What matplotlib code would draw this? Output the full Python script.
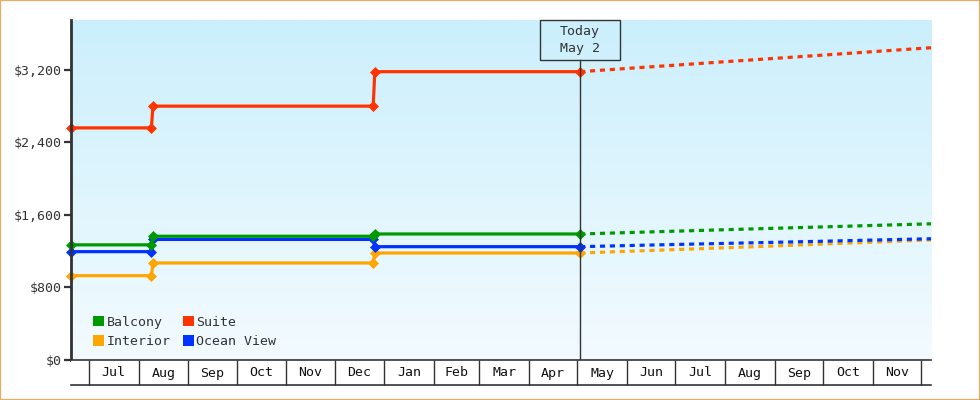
import matplotlib
matplotlib.use('Agg')
import matplotlib.pyplot as plt
import matplotlib.dates as mdates
import matplotlib.transforms as mtransforms
from matplotlib.patches import Rectangle, Patch
from matplotlib.colors import LinearSegmentedColormap
from matplotlib.ticker import FuncFormatter
import numpy as np
from datetime import datetime

# ---------------- data ----------------
series_names = ["Balcony", "Interior", "Suite", "Ocean View"]
series_colors = ["#009900", "#FFA500", "#FF3300", "#0033FF"]

hist_dates = [datetime(2022, 6, 20), datetime(2022, 8, 9), datetime(2022, 8, 10),
              datetime(2022, 12, 25), datetime(2022, 12, 26), datetime(2023, 5, 2, 18)]
balcony_hist = [1270, 1270, 1365, 1365, 1390, 1390]
interior_hist = [930, 930, 1070, 1070, 1180, 1180]
suite_hist = [2560, 2560, 2800, 2800, 3180, 3180]
ocean_hist = [1195, 1195, 1330, 1330, 1250, 1250]

fc_dates = [datetime(2023, 5, 2, 18), datetime(2023, 6, 1), datetime(2023, 7, 1),
            datetime(2023, 8, 1), datetime(2023, 9, 1), datetime(2023, 10, 1),
            datetime(2023, 11, 1), datetime(2023, 12, 7)]
balcony_fc = [1390, 1405, 1421, 1437, 1453, 1468, 1484, 1502]
interior_fc = [1180, 1199, 1218, 1238, 1258, 1279, 1300, 1325]
suite_fc = [3180, 3216, 3252, 3290, 3327, 3363, 3401, 3444]
ocean_fc = [1250, 1262, 1274, 1286, 1298, 1310, 1323, 1337]

y_ticks = [0, 800, 1600, 2400, 3200]
today = datetime(2023, 5, 2, 18)
today_label = "Today\nMay 2"
x_start = datetime(2022, 6, 20)
x_end = datetime(2023, 12, 7)
y_max = 3750

# ---------------- figure ----------------
FONT = "DejaVu Sans Mono"
FS = 9.5
DARK = "#333333"

fig = plt.figure(figsize=(9.8, 4), dpi=100)
fig.patch.set_facecolor("white")
fig.patches.append(Rectangle((0, 0), 1, 1, transform=fig.transFigure,
                             fill=False, edgecolor="#E8AA66", linewidth=1.6))

ax = fig.add_axes([71 / 980, 40 / 400, 860 / 980, 340 / 400])
band = fig.add_axes([71 / 980, 15 / 400, 860 / 980, 25 / 400], sharex=ax)

# gradient background
cmap = LinearSegmentedColormap.from_list("bg", ["#F3FBFF", "#CBEFFC"])
grad = np.linspace(0, 1, 256).reshape(-1, 1)
ax.imshow(grad, extent=[0, 1, 0, 1], transform=ax.transAxes, aspect="auto",
          cmap=cmap, origin="lower", zorder=0, interpolation="bilinear")

hist = [balcony_hist, interior_hist, suite_hist, ocean_hist]
fc = [balcony_fc, interior_fc, suite_fc, ocean_fc]
order = [1, 3, 0, 2]
for i in order:
    c = series_colors[i]
    ax.plot(fc_dates, fc[i], color=c, lw=2.3, dashes=(1.6, 1.5),
            dash_capstyle="butt", zorder=3, clip_on=False)
    ax.plot(hist_dates, hist[i], color=c, lw=2.3, marker="D", ms=5.0,
            mec=c, mew=0.5, zorder=4, clip_on=False)

ax.set_xlim(x_start, x_end)
ax.set_ylim(0, y_max)
ax.set_yticks(y_ticks)
ax.yaxis.set_major_formatter(FuncFormatter(lambda v, p: "${:,.0f}".format(v)))
ax.tick_params(axis="y", direction="out", length=5, width=1.6, color=DARK,
               labelcolor=DARK, pad=1.5, labelsize=FS)
for lab in ax.get_yticklabels():
    lab.set_fontfamily(FONT)
ax.tick_params(axis="x", bottom=False, labelbottom=False)
for s in ["top", "right", "bottom"]:
    ax.spines[s].set_visible(False)
ax.spines["left"].set_linewidth(2)
ax.spines["left"].set_color(DARK)
ax.spines["left"].set_zorder(5)

# today marker
tx = mdates.date2num(today)
base = mtransforms.blended_transform_factory(ax.transData, ax.transAxes)
box_tr = fig.dpi_scale_trans + mtransforms.ScaledTranslation(tx, 1.0, base)
ax.add_patch(Rectangle((-0.40, -0.40), 0.80, 0.40, transform=box_tr,
                       fill=False, edgecolor=DARK, lw=1, zorder=6, clip_on=False))
ax.text(0, -0.20, today_label, transform=box_tr, ha="center", va="center",
        fontfamily=FONT, fontsize=FS, color=DARK, linespacing=1.45, zorder=6)
ax.axvline(today, ymin=0, ymax=(340 - 40) / 340, color=DARK, lw=1, zorder=5)

# legend
handles = [Patch(facecolor=c, edgecolor="none") for c in series_colors]
ax.legend(handles, series_names, ncol=2, loc="lower left",
          bbox_to_anchor=(0.026, 0.035), frameon=False, handlelength=0.8,
          handleheight=0.8, handletextpad=0.2, columnspacing=0.95,
          labelspacing=0.5, borderpad=0, borderaxespad=0,
          prop={"family": FONT, "size": FS}, labelcolor=DARK)

# month band
band.set_ylim(0, 1)
band.set_facecolor("white")
for s in ["left", "right"]:
    band.spines[s].set_visible(False)
for s in ["top", "bottom"]:
    band.spines[s].set_color(DARK)
    band.spines[s].set_linewidth(1.2)
band.tick_params(axis="y", left=False, labelleft=False)
loc = mdates.MonthLocator()
band.xaxis.set_major_locator(loc)
band.tick_params(axis="x", which="major", direction="in", length=18, width=1,
                 color=DARK, labelbottom=False)
band.tick_params(axis="x", which="minor", bottom=False)
starts = [d for d in loc.tick_values(x_start, x_end)]
starts = [s for s in starts if mdates.date2num(x_start) <= s <= mdates.date2num(x_end)]
for a, b in zip(starts[:-1], starts[1:]):
    band.text((a + b) / 2, 0.48, mdates.num2date(a).strftime("%b"),
              ha="center", va="center", fontfamily=FONT, fontsize=FS, color="#111111")
band.set_xlim(x_start, x_end)

fig.savefig("out.png", dpi=100)
